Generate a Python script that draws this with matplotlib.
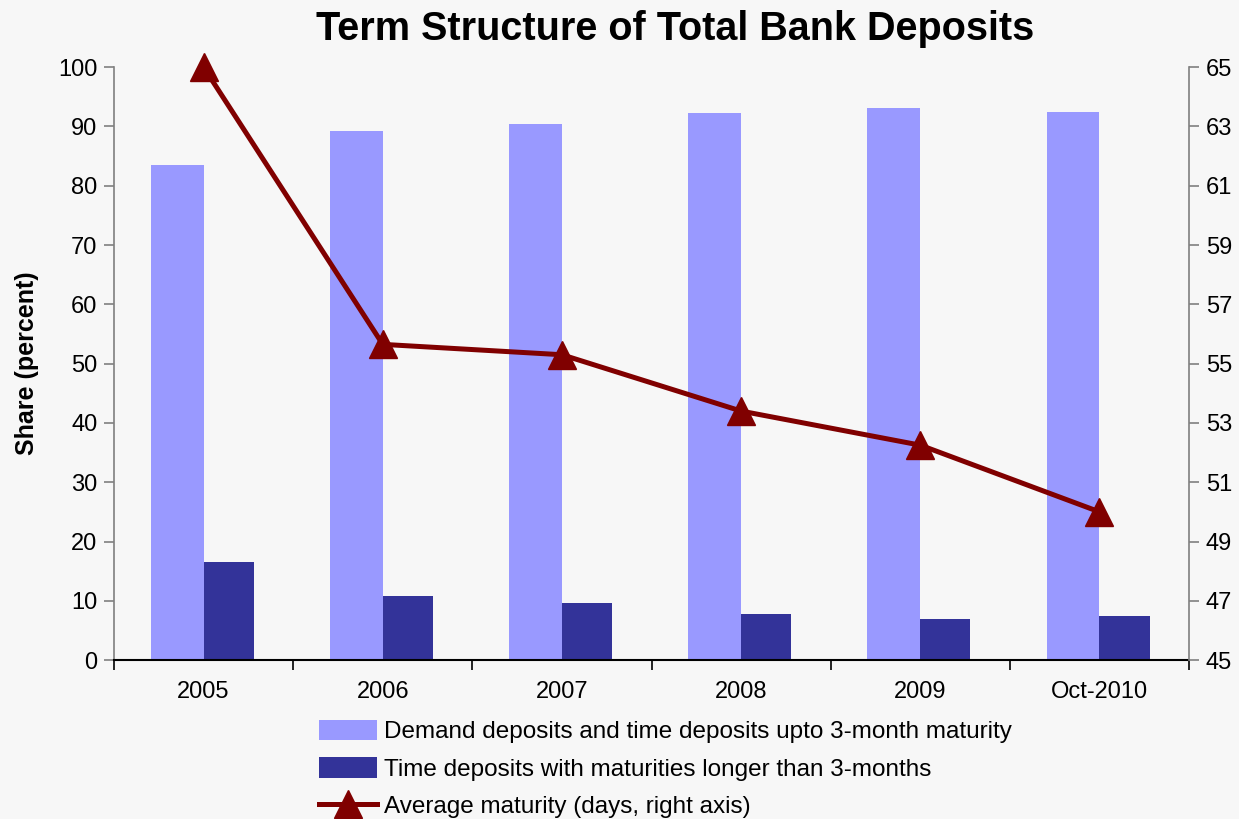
import matplotlib
matplotlib.use("Agg")
import matplotlib.pyplot as plt
import numpy as np

categories = ["2005", "2006", "2007", "2008", "2009", "Oct-2010"]
demand_short = [83.5, 89.2, 90.4, 92.2, 93.1, 92.5]
time_long = [16.5, 10.8, 9.6, 7.8, 6.9, 7.5]
avg_maturity = [65.0, 55.65, 55.3, 53.4, 52.25, 50.0]

plt.rcParams['font.family'] = ['Liberation Sans', 'DejaVu Sans']

bg = '#f7f7f7'
fig = plt.figure(figsize=(12.39, 8.19), dpi=100, facecolor=bg)
ax = fig.add_axes([0.092, 0.194, 0.8677, 0.724], facecolor=bg)
x = np.arange(len(categories))
b1 = ax.bar(x - 0.295, demand_short, width=0.295, align='edge', color='#9999FF',
            label='Demand deposits and time deposits upto 3-month maturity', zorder=2,
            linewidth=0)
b2 = ax.bar(x, time_long, width=0.28, align='edge', color='#333399',
            label='Time deposits with maturities longer than 3-months', zorder=2,
            linewidth=0)
ax.set_xlim(-0.5, len(categories) - 0.5)
ax.set_ylim(0, 100)
ax.set_yticks(range(0, 101, 10))
ax.set_xticks(x)
ax.set_xticklabels(categories)
ax.set_xticks(np.arange(-0.5, len(categories), 1.0), minor=True)
ax.tick_params(axis='x', which='major', length=0, pad=15, labelsize=17)
ax.tick_params(axis='x', which='minor', length=7, width=1.2, color='black', direction='out')
ax.tick_params(axis='y', length=7, width=1.2, color='#808080', labelsize=17, pad=5)
ax.set_ylabel('Share (percent)', fontsize=18, fontweight='bold', labelpad=14)
ax.spines['top'].set_visible(False)
ax.spines['left'].set_color('#808080')
ax.spines['left'].set_linewidth(1.2)
ax.spines['right'].set_visible(False)
ax.spines['bottom'].set_color('black')
ax.spines['bottom'].set_linewidth(1.5)

ax2 = ax.twinx()
ln, = ax2.plot(x, avg_maturity, color='#800000', lw=3.6, marker='^', ms=20,
               label='Average maturity (days, right axis)', zorder=3, clip_on=False)
ax2.set_ylim(45, 65)
ax2.set_yticks(range(45, 66, 2))
ax2.tick_params(axis='y', length=7, width=1.2, color='#808080', labelsize=17, pad=5)
ax2.spines['right'].set_color('#808080')
ax2.spines['right'].set_linewidth(1.2)
ax2.spines['top'].set_visible(False)
ax2.spines['left'].set_visible(False)
ax2.spines['bottom'].set_visible(False)

fig.suptitle('Term Structure of Total Bank Deposits', fontsize=28.5, fontweight='bold',
             x=0.545, y=0.988)

leg = fig.legend(handles=[b1, b2, ln], loc='upper left', bbox_to_anchor=(0.25, 0.133),
                 ncol=1, frameon=False, fontsize=17.5, handlelength=2.35, handleheight=0.9,
                 handletextpad=0.3, labelspacing=0.58, borderaxespad=0)
fig.savefig('out.png', dpi=100, facecolor=bg)
